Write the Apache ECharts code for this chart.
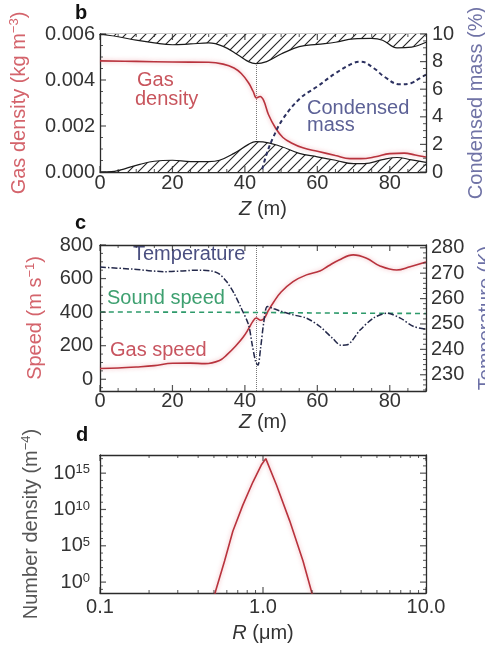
<!DOCTYPE html>
<html>
<head>
<meta charset="utf-8">
<title>Gas density, speed and droplet size</title>
<script src="https://cdn.jsdelivr.net/npm/echarts@6/dist/echarts.min.js"></script>
<style>
  html, body { margin: 0; padding: 0; background: #fff; }
  #chart { width: 485px; height: 648px; }
</style>
</head>
<body>
<div id="chart"></div>
<script>
// ---- panel b : gas density and condensed mass along Z ----
const bZTop = [0, 5, 10, 15, 20, 25, 30, 34, 38, 41, 43, 46, 50, 55, 60, 65, 70, 75, 78, 82, 86, 90];
const bTopEdge = [10, 9.8, 9.55, 9.35, 9.22, 9.28, 9.35, 9.1, 8.5, 8.0, 7.85, 8.0, 8.55, 9.08, 9.25, 9.4, 9.65, 9.68, 9.55, 9.0, 9.05, 9.4];
const bZBot = [0, 4, 7, 11, 15, 20, 25, 30, 33, 37, 41, 43, 45, 50, 55, 60, 65, 70, 73, 78, 82, 86, 90];
const bBotEdge = [0, 0.05, 0.25, 0.55, 0.78, 0.85, 0.75, 0.75, 0.85, 1.35, 2.0, 2.2, 2.18, 1.85, 1.35, 1.1, 0.85, 0.6, 0.6, 0.9, 1.05, 0.88, 0.7];
const bZDen = [0, 10, 20, 30, 34, 37, 39, 41, 42.3, 43.2, 44.2, 45.2, 46.5, 48.5, 50.5, 53, 56, 60, 65, 69, 72, 76, 80, 84, 87, 90];
const bDensity = [0.00483, 0.00481, 0.00478, 0.00477, 0.00469, 0.00452, 0.00428, 0.00388, 0.0035, 0.00322, 0.00328, 0.0031, 0.0025, 0.0019, 0.0015, 0.00125, 0.00105, 0.0009, 0.00072, 0.00058, 0.00058, 0.00066, 0.0008, 0.00082, 0.00074, 0.00065];
const bZCond = [44.8, 46, 47.8, 50.5, 55.3, 60, 65, 70, 72, 75.7, 78.5, 82.8, 86, 88, 90];
const bCondensed = [0.2, 1.3, 2.5, 3.85, 5.35, 6.2, 7.15, 7.9, 8.0, 7.5, 6.9, 6.35, 6.45, 6.75, 7.05];

// ---- panel c : speeds and temperature ----
const cZGas = [0, 5, 10, 15, 20, 25, 29, 33, 35, 37.7, 39.5, 41, 42.2, 43.1, 44.4, 45.3, 46.5, 48, 50, 53.3, 57, 60.7, 63, 66, 69.9, 73.6, 77.3, 81.9, 85.6, 90];
const cGasSpeed = [64, 67, 73, 81, 95, 96, 93, 112, 145, 204, 250, 300, 345, 365, 352, 362, 410, 462, 520, 582, 622, 645, 675, 711, 741, 721, 675, 651, 671, 699];
const cZSound = [0, 20, 43, 60, 90];
const cSoundSpeed = [401, 400, 398, 395, 392];
const cZTemp = [0, 9, 18, 27.6, 31, 33, 35, 37, 39, 41, 42, 43, 43.6, 44.3, 45.2, 46.2, 48, 50, 53.3, 57, 60.7, 64.4, 66.5, 68.3, 71.8, 75.5, 79.2, 82.9, 86.6, 90];
const cTemperature = [272.4, 271.6, 270.6, 271.2, 270.8, 269.6, 266.6, 262.1, 256.2, 249.7, 242, 235, 233.8, 240, 250.5, 256.9, 256, 255, 253.6, 252.3, 249.0, 244.1, 241.6, 241.8, 247.6, 252.3, 254.2, 252.3, 249.0, 248];
const shockZ = 43;

// ---- panel d : droplet size distribution ----
const dRadius = [0.5, 0.512, 0.581, 0.653, 0.752, 0.867, 0.976, 1.04, 1.208, 1.46, 1.76, 1.98, 2.02];
const dNumber = [6e-3, 6e-2, 8e2, 1e7, 4e10, 6e13, 1.3e16, 1e17, 2.5e13, 2.5e8, 8e2, 6e-2, 1e-2];

// ---- tick labels ----
const zTicks = [0, 20, 40, 60, 80];
const densityTicks = [0, 0.002, 0.004, 0.006];
const massTicks = [0, 2, 4, 6, 8, 10];
const speedTicks = [0, 200, 400, 600, 800];
const tempTicks = [230, 240, 250, 260, 270, 280];
const radiusTicks = [0.1, 1, 10];
const numberTicks = [1, 1e5, 1e10, 1e15];
const radiusMinor = [0.2, 0.3, 0.4, 0.5, 0.6, 0.7, 0.8, 0.9, 2, 3, 4, 5, 6, 7, 8, 9];
const numberMinor = [0.1, 10, 100, 1e3, 1e4, 1e6, 1e7, 1e8, 1e9, 1e11, 1e12, 1e13, 1e14, 1e16, 1e17];

const FONT = "'Liberation Sans', Arial, Helvetica, sans-serif";
const INK = '#333';
const FRAME = '#2b2b2b';
const RED = '#b8333d';

const zip = (xs, ys) => xs.map((x, i) => [x, ys[i]]);

function minorTicks(lo, hi, step, major) {
  const out = [];
  for (let v = lo; v <= hi + 1e-9; v += step) {
    const r = +v.toFixed(6);
    const k = r / major;
    if (Math.abs(k - Math.round(k)) > 1e-6) out.push(r);
  }
  return out;
}

// diagonal hatch tile for the condensed-mass envelope
function hatchTile() {
  const s = 10;
  const c = document.createElement('canvas');
  c.width = s; c.height = s;
  const g = c.getContext('2d');
  g.fillStyle = '#fff';
  g.fillRect(0, 0, s, s);
  g.strokeStyle = '#222';
  g.lineWidth = 1.1;
  [-s, 0, s].forEach(off => {
    g.beginPath();
    g.moveTo(off - 1, s + 1);
    g.lineTo(off + s + 1, -1);
    g.stroke();
  });
  return c;
}

function frameAxis(gridIndex, position, scale, label, name) {
  const a = {
    gridIndex: gridIndex,
    position: position,
    type: scale.type || 'value',
    min: scale.min,
    max: scale.max,
    axisLine: { show: true, onZero: false, lineStyle: { color: FRAME, width: 1.3 } },
    axisTick: { show: false },
    axisLabel: { show: false },
    splitLine: { show: false }
  };
  if (label) {
    a.axisLabel = Object.assign({ show: true, color: INK, fontSize: 20, fontFamily: FONT }, label);
  }
  if (name) Object.assign(a, name);
  return a;
}

function axisName(text, gap, color) {
  const rich = {
    i: { fontStyle: 'italic', fontSize: 20, fontFamily: FONT, color: color },
    sup: { fontSize: 13, fontFamily: FONT, color: color, verticalAlign: 'top', lineHeight: 14 }
  };
  return {
    name: text,
    nameLocation: 'middle',
    nameGap: gap,
    nameTextStyle: { color: color, fontSize: 20, fontFamily: FONT, lineHeight: 22, rich: rich }
  };
}

const xAxes = [];
const yAxes = [];
const push = (list, a) => { list.push(a); return list.length - 1; };

function frame(g, p) {
  const ids = { p: p };
  ids.x = push(xAxes, frameAxis(g, 'bottom', p.x, Object.assign({ customValues: p.xTicks }, p.xLabel), p.xName));
  push(xAxes, frameAxis(g, 'top', p.x));
  ids.yl = push(yAxes, frameAxis(g, 'left', p.yl, Object.assign({ customValues: p.ylTicks }, p.ylLabel), p.ylName));
  ids.yr = push(yAxes, frameAxis(g, 'right', p.yr, p.yrLabel ? Object.assign({ customValues: p.yrTicks }, p.yrLabel) : null, p.yrName));
  return ids;
}

// inward tick marks, placed through the panel's own scales
function tickMarks(ids, yKey, points, w, h, dx, dy) {
  return {
    type: 'scatter', xAxisIndex: ids.x, yAxisIndex: ids[yKey], data: points,
    symbol: 'rect', symbolSize: [w, h], symbolOffset: [dx, dy],
    itemStyle: { color: FRAME }, silent: true, clip: false, z: 6, animation: false
  };
}

function frameTicks(ids) {
  const p = ids.p;
  const out = [];
  [[p.xTicks, 6, 1.2], [p.xMinor, 3, 1]].forEach(([vals, len, w]) => {
    out.push(tickMarks(ids, 'yl', vals.map(v => [v, p.yl.min]), w, len, 0, -len / 2));
    out.push(tickMarks(ids, 'yl', vals.map(v => [v, p.yl.max]), w, len, 0, len / 2));
  });
  [[p.ylTicks, 6, 1.2], [p.ylMinor, 3, 1]].forEach(([vals, len, w]) => {
    out.push(tickMarks(ids, 'yl', vals.map(v => [p.x.min, v]), len, w, len / 2, 0));
  });
  [[p.yrTicks, 6, 1.2], [p.yrMinor, 3, 1]].forEach(([vals, len, w]) => {
    out.push(tickMarks(ids, 'yr', vals.map(v => [p.x.max, v]), len, w, -len / 2, 0));
  });
  return out;
}

const zScale = { min: 0, max: 90 };
const zMinor = minorTicks(0, 90, 5, 20);

const fb = frame(0, {
  x: zScale, xTicks: zTicks, xMinor: zMinor,
  xLabel: { margin: 1 }, xName: axisName('{i|Z} (m)', 26, INK),
  yl: { min: 0, max: 0.006 }, ylTicks: densityTicks, ylMinor: minorTicks(0, 0.006, 0.0005, 0.002),
  ylLabel: { margin: 5, formatter: v => v.toFixed(3) },
  ylName: axisName('Gas density (kg m{sup|\u22123})', 70, '#d4646c'),
  yr: { min: 0, max: 10 }, yrTicks: massTicks, yrMinor: minorTicks(0, 10, 0.5, 2),
  yrLabel: { margin: 6 },
  yrName: axisName('Condensed mass (%)', 39, '#7073a6')
});

const fc = frame(1, {
  x: zScale, xTicks: zTicks, xMinor: zMinor,
  xLabel: { margin: 0 }, xName: axisName('{i|Z} (m)', 19, INK),
  yl: { min: -70, max: 800 }, ylTicks: speedTicks, ylMinor: minorTicks(-50, 800, 50, 200),
  ylLabel: { margin: 7 },
  ylName: axisName('Speed (m s{sup|\u22121})', 54, '#d4646c'),
  yr: { min: 223.6, max: 281.1 }, yrTicks: tempTicks, yrMinor: minorTicks(224, 280, 2, 10),
  yrLabel: { margin: 5 },
  yrName: axisName('Temperature (K)', 46, '#6c70a6')
});

const fd = frame(2, {
  x: { type: 'log', min: 0.1, max: 10 }, xTicks: radiusTicks, xMinor: radiusMinor,
  xLabel: { margin: 4, formatter: v => v.toFixed(1) },
  xName: axisName('{i|R} (\u03bcm)', 29, INK),
  yl: { type: 'log', min: Math.pow(10, -1.5), max: Math.pow(10, 17.5) }, ylTicks: numberTicks, ylMinor: numberMinor,
  ylLabel: {
    margin: 10,
    formatter: v => '10{sup|' + Math.round(Math.log10(v)) + '}',
    rich: { sup: { fontSize: 13, fontFamily: FONT, color: INK, verticalAlign: 'top', lineHeight: 14 } }
  },
  ylName: axisName('Number density (m{sup|\u22124})', 58, '#555'),
  yr: { type: 'log', min: Math.pow(10, -1.5), max: Math.pow(10, 17.5) }, yrTicks: numberTicks, yrMinor: numberMinor
});

const hatch = { image: hatchTile(), repeat: 'repeat' };
const redGlow = { shadowBlur: 4, shadowColor: 'rgba(230, 120, 130, 0.6)' };
const shockLine = {
  silent: true, symbol: 'none', z: 1,
  label: { show: false },
  lineStyle: { color: '#777', type: 'dotted', width: 1 },
  data: [{ xAxis: shockZ }]
};

function line(ids, yKey, data, style, extra) {
  return Object.assign({
    type: 'line',
    xAxisIndex: ids.x,
    yAxisIndex: ids[yKey],
    data: data,
    symbol: 'none',
    smooth: 0.4,
    z: 4,
    silent: true,
    animation: false,
    lineStyle: style
  }, extra || {});
}

const series = [
  line(fb, 'yr', zip(bZTop, bTopEdge), { color: '#1a1a1a', width: 1.2 },
    { z: 3, areaStyle: { origin: 'end', color: hatch, opacity: 1 } }),
  line(fb, 'yr', zip(bZBot, bBotEdge), { color: '#1a1a1a', width: 1.2 },
    { z: 3, areaStyle: { origin: 'start', color: hatch, opacity: 1 } }),
  line(fb, 'yl', zip(bZDen, bDensity), Object.assign({ color: RED, width: 1.6 }, redGlow),
    { markLine: shockLine }),
  line(fb, 'yr', zip(bZCond, bCondensed), { color: '#2c3160', width: 2, type: [4, 3] }),

  line(fc, 'yl', zip(cZGas, cGasSpeed), Object.assign({ color: RED, width: 1.6 }, redGlow),
    { markLine: shockLine }),
  line(fc, 'yl', zip(cZSound, cSoundSpeed), { color: '#2e9a6b', width: 1.6, type: [5, 4] }),
  line(fc, 'yr', zip(cZTemp, cTemperature), { color: '#23284a', width: 1.5, type: [6, 2, 1.5, 2] },
    { smooth: 0.3 }),

  line(fd, 'yl', zip(dRadius, dNumber), Object.assign({ color: RED, width: 1.6 }, redGlow),
    { smooth: false })
].concat(frameTicks(fb), frameTicks(fc), frameTicks(fd));

function note(x, y, text, color, weight) {
  return {
    type: 'text', x: x, y: y, silent: true,
    style: {
      text: text, fill: color, fontSize: 20, fontFamily: FONT,
      fontWeight: weight || 'normal', align: 'left', verticalAlign: 'middle'
    }
  };
}

const gridBox = (top, height) => ({ left: 100, top: top, width: 326, height: height, outerBoundsMode: 'none', containLabel: false });

const chart = echarts.init(document.getElementById('chart'), null, { renderer: 'canvas' });
chart.setOption({
  backgroundColor: '#fff',
  animation: false,
  grid: [gridBox(34, 138), gridBox(245, 146), gridBox(455, 138)],
  xAxis: xAxes,
  yAxis: yAxes,
  series: series,
  graphic: [
    note(75, 13, 'b', '#111', 'bold'),
    note(75, 223, 'c', '#111', 'bold'),
    note(76, 435, 'd', '#111', 'bold'),
    note(137, 80, 'Gas', '#c8555d'),
    note(135, 99, 'density', '#c8555d'),
    note(307, 108, 'Condensed', '#5c6196'),
    note(307, 125, 'mass', '#5c6196'),
    note(133, 254, 'Temperature', '#4a4f80'),
    note(107, 298, 'Sound speed', '#3ea070'),
    note(110, 350, 'Gas speed', '#c85560')
  ]
});
</script>
</body>
</html>
